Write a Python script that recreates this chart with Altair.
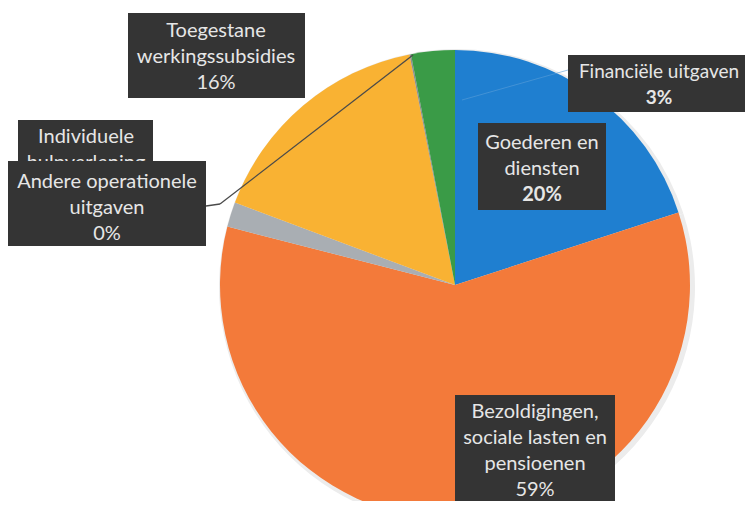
import altair as alt
import pandas as pd

# ---- data ----
categories = [
    "Goederen en diensten",
    "Bezoldigingen, sociale lasten en pensioenen",
    "Individuele hulpverlening",
    "Toegestane werkingssubsidies",
    "Andere operationele uitgaven",
    "Financiële uitgaven",
]
values = [20.0, 59.0, 1.7, 16.2, 0.1, 3.0]
colors = ["#1f7fd0", "#f37a3a", "#a9aeb3", "#f9b233", "#8c8c8c", "#3a9b47"]

# label texts (lines) per category
label_lines = {
    "Goederen en diensten": ["Goederen en", "diensten", "20%"],
    "Bezoldigingen, sociale lasten en pensioenen": ["Bezoldigingen,", "sociale lasten en", "pensioenen", "59%"],
    "Individuele hulpverlening": ["Individuele", "hulpverlening"],
    "Toegestane werkingssubsidies": ["Toegestane", "werkingssubsidies", "16%"],
    "Andere operationele uitgaven": ["Andere operationele", "uitgaven", "0%"],
    "Financiële uitgaven": ["Financiële uitgaven", "3%"],
}
bold_pct = {"Goederen en diensten", "Financiële uitgaven"}

# ---- layout (pixel positions in view coords) ----
W, H = 737, 493
CX, CY, R = 447, 277, 235
OFF = 8  # page margin

boxes = {  # page coords: x1, x2, y1, y2, text center x, first line y, font size
    "Toegestane werkingssubsidies": (128, 305, 13, 98, 216, 31, 20),
    "Individuele hulpverlening": (18, 153, 120, 170, 86, 137, 20),
    "Andere operationele uitgaven": (8, 206, 161, 246, 107, 182, 20),
    "Goederen en diensten": (478, 606, 123, 210, 542, 143, 20),
    "Financiële uitgaven": (568, 760, 55, 112, 659, 72, 19),
    "Bezoldigingen, sociale lasten en pensioenen": (455, 615, 395, 510, 535, 412, 20),
}
LINE_H = 26

pie_df = pd.DataFrame({"cat": categories, "value": values, "order": list(range(len(categories)))})

shadow = alt.Chart(pie_df).mark_arc(radius=R + 3, color="#ececec").encode(
    theta=alt.Theta("value:Q", stack=True),
    x=alt.value(CX + 2), y=alt.value(CY + 2),
)

pie = alt.Chart(pie_df).mark_arc(radius=R).encode(
    theta=alt.Theta("value:Q", stack=True),
    order=alt.Order("order:Q"),
    color=alt.Color("cat:N", scale=alt.Scale(domain=categories, range=colors), legend=None),
    x=alt.value(CX), y=alt.value(CY),
)

def box_layer(names):
    rows = []
    for n in names:
        x1, x2, y1, y2 = boxes[n][:4]
        rows.append({"x": x1 - OFF, "x2": x2 - OFF, "y": y1 - OFF, "y2": y2 - OFF})
    return alt.Chart(pd.DataFrame(rows)).mark_rect(color="#343434").encode(
        x=alt.X("x:Q", scale=None, axis=None), x2="x2:Q",
        y=alt.Y("y:Q", scale=None, axis=None), y2="y2:Q",
    )

def text_layers(names):
    normal, bold = [], []
    for n in names:
        tx, ty, fs = boxes[n][4:]
        lines = label_lines[n]
        for i, t in enumerate(lines):
            row = {"x": tx - OFF, "y": ty - OFF + i * LINE_H, "t": t, "fs": fs}
            if n in bold_pct and i == len(lines) - 1:
                bold.append(row)
            else:
                normal.append(row)
    layers = []
    for rows, fw in ((normal, "normal"), (bold, "bold")):
        if rows:
            layers.append(
                alt.Chart(pd.DataFrame(rows)).mark_text(
                    font="Lato", color="#e6e6e6", fontWeight=fw,
                    align="center", baseline="middle",
                ).encode(
                    x=alt.X("x:Q", scale=None, axis=None),
                    y=alt.Y("y:Q", scale=None, axis=None),
                    size=alt.Size("fs:Q", scale=None, legend=None),
                    text="t:N",
                )
            )
    return layers

# leader lines (page coords)
segments = pd.DataFrame([
    {"x": 206, "y": 206, "x2": 220, "y2": 204},
    {"x": 220, "y": 204, "x2": 413, "y2": 55},
])
segments[["x", "x2", "y", "y2"]] -= OFF
leaders = alt.Chart(segments).mark_rule(strokeWidth=1.3, color="#4a4a4a").encode(
    x=alt.X("x:Q", scale=None, axis=None), x2="x2:Q",
    y=alt.Y("y:Q", scale=None, axis=None), y2="y2:Q",
)
fin_seg = pd.DataFrame([{"x": 568 - OFF, "y": 70 - OFF, "x2": 462 - OFF, "y2": 100 - OFF}])
fin_leader = alt.Chart(fin_seg).mark_rule(strokeWidth=1, color="#5a9fd8", opacity=0.6).encode(
    x=alt.X("x:Q", scale=None, axis=None), x2="x2:Q",
    y=alt.Y("y:Q", scale=None, axis=None), y2="y2:Q",
)

others = [
    "Toegestane werkingssubsidies",
    "Andere operationele uitgaven",
    "Goederen en diensten",
    "Financiële uitgaven",
    "Bezoldigingen, sociale lasten en pensioenen",
]

layers = [shadow, pie, leaders, fin_leader, box_layer(["Individuele hulpverlening"])]
layers += text_layers(["Individuele hulpverlening"])
layers += [box_layer(others)]
layers += text_layers(others)

chart = alt.layer(*layers).properties(
    width=W, height=H, autosize=alt.AutoSizeParams(type="none"), padding=0,
    background="white",
).configure_view(stroke=None)

chart.save("out.html", embed_options={"renderer": "svg", "actions": False})
